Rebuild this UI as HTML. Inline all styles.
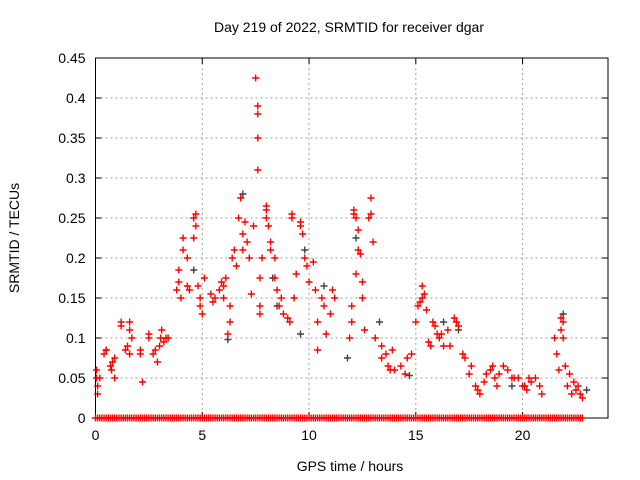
<!DOCTYPE html>
<html><head><meta charset="utf-8"><style>
body{margin:0;background:#fff;}
svg{display:block;font-family:"Liberation Sans",sans-serif;font-size:14px;}
</style></head><body>
<svg id="chart" width="640" height="480" viewBox="0 0 640 480">
<rect width="640" height="480" fill="#fff"/>
<text x="349" y="32" text-anchor="middle">Day 219 of 2022, SRMTID for receiver dgar</text>
<text x="350" y="471" text-anchor="middle">GPS time / hours</text>
<text transform="translate(19,238) rotate(-90)" text-anchor="middle">SRMTID / TECUs</text>
<g id="grid"></g><g id="axes"></g><g id="marks"></g>
</svg>
<script>
const xTicks=[0,5,10,15,20];
const yTicks=[0,0.05,0.1,0.15,0.2,0.25,0.3,0.35,0.4,0.45];
const yTickLabels=["0","0.05","0.1","0.15","0.2","0.25","0.3","0.35","0.4","0.45"];
const redX=[0.05,0.05,0.1,0.1,0.2,0.4,0.5,0.7,0.75,0.8,0.9,0.9,1.2,1.2,1.4,1.5,1.6,1.6,1.6,1.7,2.1,2.1,2.2,2.5,2.5,2.7,2.8,2.9,3.0,3.05,3.1,3.2,3.3,3.4,3.8,3.9,3.9,4.0,4.1,4.1,4.3,4.3,4.4,4.6,4.6,4.7,4.7,4.8,4.9,4.9,5.0,5.1,5.4,5.5,5.6,5.8,5.9,6.0,6.0,6.1,6.2,6.3,6.3,6.4,6.5,6.6,6.7,6.8,6.9,6.9,7.0,7.1,7.2,7.3,7.4,7.5,7.6,7.6,7.6,7.6,7.7,7.7,7.7,7.8,8.0,8.0,8.0,8.1,8.2,8.2,8.4,8.4,8.5,8.6,8.7,8.8,9.0,9.1,9.2,9.2,9.3,9.4,9.6,9.6,9.7,9.8,9.9,10.0,10.2,10.3,10.4,10.4,10.6,10.7,10.8,11.0,11.1,11.2,11.9,12.0,12.0,12.1,12.1,12.2,12.2,12.3,12.3,12.4,12.5,12.5,12.6,12.8,12.9,12.9,13.0,13.1,13.4,13.4,13.6,13.7,13.8,13.9,14.0,14.3,14.5,14.6,14.8,15.0,15.1,15.2,15.3,15.3,15.4,15.5,15.6,15.7,15.8,15.9,16.0,16.1,16.2,16.3,16.5,16.6,16.8,16.9,17.0,17.2,17.3,17.5,17.6,17.8,17.9,18.0,18.2,18.3,18.5,18.6,18.7,18.8,18.9,19.1,19.3,19.5,19.6,19.8,20.0,20.1,20.2,20.3,20.4,20.6,20.8,20.9,21.5,21.6,21.7,21.8,21.8,21.9,21.9,22.0,22.1,22.2,22.3,22.4,22.5,22.6,22.7,22.8];
const redY=[0.06,0.05,0.04,0.03,0.05,0.08,0.085,0.065,0.06,0.07,0.075,0.05,0.12,0.115,0.085,0.09,0.08,0.12,0.11,0.1,0.085,0.08,0.045,0.1,0.105,0.08,0.085,0.07,0.09,0.1,0.11,0.095,0.1,0.1,0.16,0.17,0.185,0.15,0.21,0.225,0.2,0.165,0.16,0.225,0.25,0.255,0.24,0.165,0.14,0.15,0.13,0.175,0.155,0.145,0.15,0.16,0.17,0.165,0.15,0.175,0.105,0.12,0.14,0.2,0.21,0.19,0.25,0.275,0.23,0.21,0.245,0.22,0.2,0.155,0.24,0.425,0.39,0.38,0.35,0.31,0.175,0.14,0.13,0.2,0.265,0.26,0.25,0.24,0.21,0.22,0.2,0.175,0.16,0.14,0.15,0.13,0.125,0.12,0.25,0.255,0.15,0.18,0.245,0.24,0.23,0.2,0.19,0.17,0.195,0.16,0.085,0.12,0.15,0.14,0.105,0.13,0.16,0.15,0.1,0.14,0.12,0.26,0.255,0.25,0.18,0.235,0.21,0.205,0.17,0.15,0.11,0.25,0.275,0.255,0.22,0.1,0.09,0.075,0.08,0.065,0.06,0.085,0.06,0.065,0.055,0.075,0.08,0.12,0.14,0.145,0.15,0.165,0.155,0.135,0.095,0.09,0.12,0.115,0.105,0.1,0.105,0.09,0.11,0.09,0.125,0.12,0.115,0.08,0.075,0.055,0.065,0.04,0.035,0.03,0.045,0.055,0.06,0.065,0.05,0.04,0.055,0.065,0.06,0.05,0.05,0.05,0.04,0.04,0.035,0.05,0.045,0.05,0.04,0.03,0.1,0.08,0.06,0.11,0.125,0.12,0.1,0.065,0.04,0.055,0.03,0.045,0.035,0.04,0.03,0.025];
const grayX=[0.5,4.6,6.2,6.9,8.3,8.5,9.6,9.8,10.7,11.8,12.2,13.3,14.7,16.3,17.0,19.5,21.9,23.0];
const grayY=[0.085,0.185,0.098,0.28,0.175,0.14,0.105,0.21,0.165,0.075,0.225,0.12,0.053,0.12,0.11,0.04,0.13,0.035];
const zeroX=[0,0.2,0.4,0.6,0.8,1.0,1.2,1.4,1.6,1.8,2.0,2.2,2.4,2.6,2.8,3.0,3.2,3.4,3.6,3.8,4.0,4.2,4.4,4.6,4.8,5.0,5.2,5.4,5.6,5.8,6.0,6.2,6.4,6.6,6.8,7.0,7.2,7.4,7.6,7.8,8.0,8.2,8.4,8.6,8.8,9.0,9.2,9.4,9.6,9.8,10.0,10.2,10.4,10.6,10.8,11.0,11.2,11.4,11.6,11.8,12.0,12.2,12.4,12.6,12.8,13.0,13.2,13.4,13.6,13.8,14.0,14.2,14.4,14.6,14.8,15.0,15.2,15.4,15.6,15.8,16.0,16.2,16.4,16.6,16.8,17.0,17.2,17.4,17.6,17.8,18.0,18.2,18.4,18.6,18.8,19.0,19.2,19.4,19.6,19.8,20.0,20.2,20.4,20.6,20.8,21.0,21.2,21.4,21.6,21.8,22.0,22.2,22.4,22.6,22.8];
const zeroX2=[0.1,0.3,0.5,0.7,0.9,1.1,1.3,1.5,1.7,1.9,2.1,2.3,2.5,2.7,2.9,3.1,3.3,3.5,3.7,3.9,4.1,4.3,4.5,4.7,4.9,5.1,5.3,5.5,5.7,5.9,6.1,6.3,6.5,6.7,6.9,7.1,7.3,7.5,7.7,7.9,8.1,8.3,8.5,8.7,8.9,9.1,9.3,9.5,9.7,9.9,10.1,10.3,10.5,10.7,10.9,11.1,11.3,11.5,11.7,11.9,12.1,12.3,12.5,12.7,12.9,13.1,13.3,13.5,13.7,13.9,14.1,14.3,14.5,14.7,14.9,15.1,15.3,15.5,15.7,15.9,16.1,16.3,16.5,16.7,16.9,17.1,17.3,17.5,17.7,17.9,18.1,18.3,18.5,18.7,18.9,19.1,19.3,19.5,19.7,19.9,20.1,20.3,20.5,20.7,20.9,21.1,21.3,21.5,21.7,21.9,22.1,22.3,22.5,22.7];

const L=95.5,R=608,T=58,B=418;
const xS=v=>L+v*(R-L)/24;
const yS=v=>B-v*(B-T)/0.45;
const NS="http://www.w3.org/2000/svg";
function mk(tag,parent,attrs){const e=document.createElementNS(NS,tag);for(const k in attrs)e.setAttribute(k,attrs[k]);parent.appendChild(e);return e;}
const grid=document.getElementById('grid'),axes=document.getElementById('axes'),marks=document.getElementById('marks');
xTicks.forEach(t=>{
 const x=xS(t);
 if(t>0){const g=mk('line',grid,{x1:x,x2:x,y1:T,y2:B,stroke:'#a0a0a0','stroke-dasharray':'2,3'});
 
 }
 const tx=mk('text',axes,{x:x,y:B+22,'text-anchor':'middle'});tx.textContent=t;
 
 
 mk('line',axes,{x1:x,x2:x,y1:B,y2:B-6,stroke:'#000'});
 mk('line',axes,{x1:x,x2:x,y1:T,y2:T+6,stroke:'#000'});
});
yTicks.forEach((t,i)=>{
 const y=yS(t);
 if(t>0&&t<0.45){const g=mk('line',grid,{x1:L,x2:R,y1:y,y2:y,stroke:'#a0a0a0','stroke-dasharray':'2,3'});
 
 }
 const tx=mk('text',axes,{x:L-10,y:y+5,'text-anchor':'end'});tx.textContent=yTickLabels[i];
 
 
 mk('line',axes,{x1:L,x2:L+6,y1:y,y2:y,stroke:'#000'});
 mk('line',axes,{x1:R,x2:R-6,y1:y,y2:y,stroke:'#000'});
});
const fr=mk('rect',axes,{x:L,y:T,width:R-L,height:B-T,fill:'none',stroke:'#000'});


function plus(x,y,c,name){
 const p=mk('path',marks,{d:`M${x-3.5},${y}h7M${x},${y-3.5}v7`,stroke:c,'stroke-width':1.4,fill:'none'});
 
 
}
grayX.forEach((v,i)=>plus(xS(v),yS(grayY[i]),'#404040','gray-point'));
redX.forEach((v,i)=>plus(xS(v),yS(redY[i]),'#ff0000','red-point'));
zeroX.forEach(v=>plus(xS(v),yS(0),'#ff0000','zero-point'));
zeroX2.forEach(v=>plus(xS(v),yS(0),'#ff0000','zero-point'));
</script>
</body></html>
